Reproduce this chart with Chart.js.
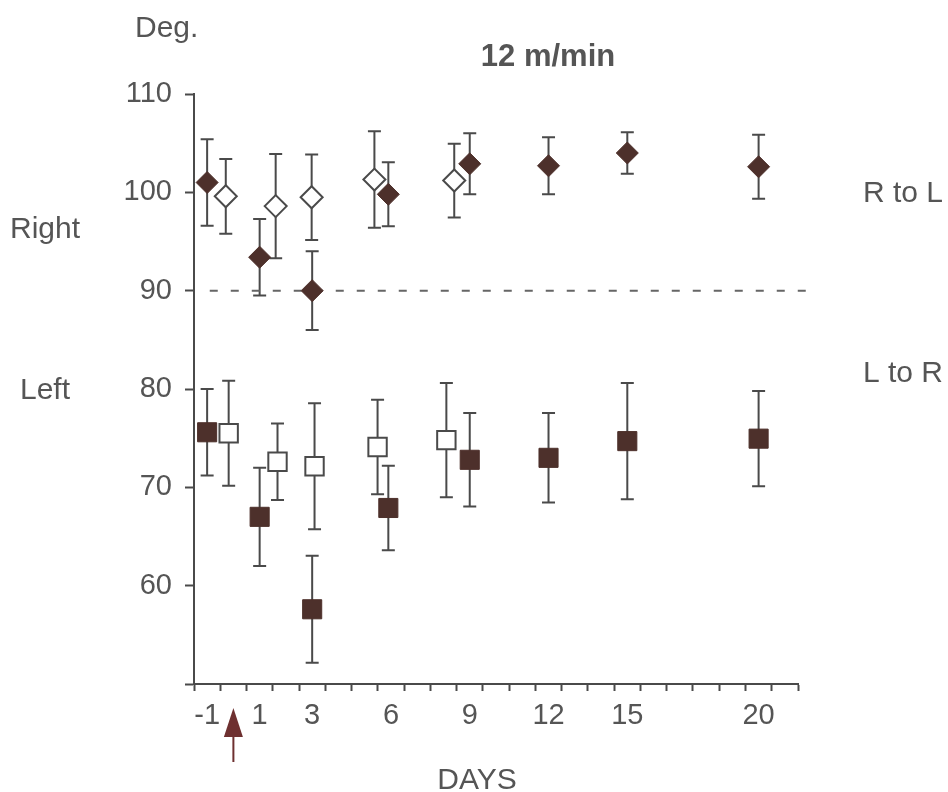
<!DOCTYPE html>
<html>
<head>
<meta charset="utf-8">
<script src="https://cdn.jsdelivr.net/npm/chart.js@4.4.1/dist/chart.umd.min.js"></script>
<style>
    html, body { margin: 0; padding: 0; background: #fff; }
</style>
</head>
<body>
<canvas id="chart" width="948" height="792"></canvas>
<script>
// x axis: labelled days, and the day the arrow points at
const dayLabels = [-1, 1, 3, 6, 9, 12, 15, 20];
const arrowDay = 0;
const yTicks = [50, 60, 70, 80, 90, 100, 110];
const refLine = 90;

// R to L (diamonds): filled and open groups, mean and SD
const rlFilledX = [-1, 1, 3, 5.9, 9, 12, 15, 20];
const rlFilled = [101.0, 93.4, 90.0, 99.8, 102.9, 102.7, 104.0, 102.6];
const rlFilledSd = [4.4, 3.9, 4.0, 3.25, 3.1, 2.9, 2.1, 3.25];
const rlOpenX = [-0.29, 1.61, 2.98, 5.37, 8.41];
const rlOpen = [99.6, 98.6, 99.5, 101.3, 101.2];
const rlOpenSd = [3.8, 5.3, 4.35, 4.9, 3.75];

// L to R (squares)
const lrFilledX = [-1, 1, 3, 5.9, 9, 12, 15, 20];
const lrFilled = [75.6, 67.0, 57.6, 67.9, 72.8, 73.0, 74.7, 74.95];
const lrFilledSd = [4.4, 5.0, 5.45, 4.3, 4.75, 4.55, 5.9, 4.85];
const lrOpenX = [-0.18, 1.68, 3.09, 5.49, 8.11];
const lrOpen = [75.5, 72.6, 72.15, 74.1, 74.8];
const lrOpenSd = [5.35, 3.9, 6.4, 4.8, 5.8];

const FONT = '"Liberation Sans", Arial, sans-serif';
const TEXT = '#555';
const AXIS = '#4a4a4a';
const DARK = '#4d302b';

// half-day positions carry the tick marks, whole days carry the labels
const xMin = Math.min(...dayLabels) - 0.5;
const xMax = 21.5;
const tickMarks = [];
for (let v = xMin; v <= xMax; v += 1) tickMarks.push(v);

const pts = (xs, ys) => xs.map((x, i) => ({ x: x, y: ys[i] }));

const errorBars = {
    id: 'errorBars',
    beforeDatasetsDraw(chart) {
        const { ctx, scales: { x, y } } = chart;
        ctx.save();
        ctx.strokeStyle = AXIS;
        ctx.lineWidth = 2;
        chart.data.datasets.forEach(ds => {
            if (!ds.sd) return;
            ds.data.forEach((p, i) => {
                const px = x.getPixelForValue(p.x);
                const top = y.getPixelForValue(p.y + ds.sd[i]);
                const bot = y.getPixelForValue(p.y - ds.sd[i]);
                ctx.beginPath();
                ctx.moveTo(px, top);
                ctx.lineTo(px, bot);
                ctx.moveTo(px - 6.5, top);
                ctx.lineTo(px + 6.5, top);
                ctx.moveTo(px - 6.5, bot);
                ctx.lineTo(px + 6.5, bot);
                ctx.stroke();
            });
        });
        ctx.restore();
    }
};

const labels = {
    id: 'labels',
    afterDraw(chart) {
        const { ctx, scales: { x } } = chart;
        ctx.save();
        ctx.fillStyle = TEXT;
        ctx.textBaseline = 'alphabetic';
        ctx.font = '30px ' + FONT;
        ctx.textAlign = 'left';
        ctx.fillText('Deg.', 135, 37);
        ctx.fillText('Right', 10, 238);
        ctx.fillText('Left', 20, 399);
        ctx.fillText('R to L', 863, 202);
        ctx.fillText('L to R', 863, 382);
        ctx.textAlign = 'center';
        ctx.fillText('DAYS', 477, 789);
        ctx.font = 'bold 31px ' + FONT;
        ctx.fillText('12 m/min', 548, 66);

        // arrow under the axis
        const ax = x.getPixelForValue(arrowDay);
        ctx.fillStyle = '#6e3030';
        ctx.strokeStyle = '#6e3030';
        ctx.beginPath();
        ctx.moveTo(ax, 708);
        ctx.lineTo(ax + 9.5, 737);
        ctx.lineTo(ax - 9.5, 737);
        ctx.closePath();
        ctx.fill();
        ctx.lineWidth = 2;
        ctx.beginPath();
        ctx.moveTo(ax, 737);
        ctx.lineTo(ax, 762);
        ctx.stroke();
        ctx.restore();
    }
};

new Chart(document.getElementById('chart'), {
    type: 'scatter',
    data: {
        datasets: [
            {
                data: pts(rlFilledX, rlFilled), sd: rlFilledSd,
                pointStyle: 'rectRot', pointRadius: 11,
                backgroundColor: DARK, borderColor: DARK, borderWidth: 1
            },
            {
                data: pts(rlOpenX, rlOpen), sd: rlOpenSd,
                pointStyle: 'rectRot', pointRadius: 11,
                backgroundColor: '#fff', borderColor: AXIS, borderWidth: 2
            },
            {
                data: pts(lrFilledX, lrFilled), sd: lrFilledSd,
                pointStyle: 'rect', pointRadius: 13.5,
                backgroundColor: DARK, borderColor: DARK, borderWidth: 1
            },
            {
                data: pts(lrOpenX, lrOpen), sd: lrOpenSd,
                pointStyle: 'rect', pointRadius: 13,
                backgroundColor: '#fff', borderColor: AXIS, borderWidth: 2
            },
            {
                type: 'line',
                data: [{ x: xMin + 0.6, y: refLine }, { x: xMax + 0.4, y: refLine }],
                borderColor: '#666', borderWidth: 2, borderDash: [8, 13],
                pointRadius: 0,
                clip: false
            }
        ]
    },
    options: {
        responsive: false,
        animation: false,
        devicePixelRatio: 1,
        layout: { padding: { left: 60, right: 150, top: 94, bottom: 40 } },
        plugins: { legend: { display: false }, tooltip: { enabled: false } },
        scales: {
            x: {
                type: 'linear',
                min: xMin,
                max: xMax,
                afterBuildTicks: scale => {
                    scale.ticks = [...tickMarks, ...dayLabels]
                        .sort((a, b) => a - b)
                        .map(v => ({ value: v }));
                },
                afterFit: scale => { scale.height = 68; },
                grid: {
                    drawOnChartArea: false,
                    tickLength: 7,
                    tickWidth: 2,
                    tickColor: c => (c.tick && dayLabels.includes(c.tick.value)) ? 'rgba(0,0,0,0)' : AXIS
                },
                border: { color: AXIS, width: 2 },
                ticks: {
                    autoSkip: false,
                    maxRotation: 0,
                    padding: 8,
                    color: TEXT,
                    font: { family: FONT, size: 29 },
                    callback: v => dayLabels.includes(v) ? String(v) : ''
                }
            },
            y: {
                min: yTicks[0],
                max: yTicks[yTicks.length - 1],
                afterBuildTicks: scale => {
                    scale.ticks = yTicks.map(v => ({ value: v }));
                },
                afterFit: scale => { scale.width = 134; },
                grid: { drawOnChartArea: false, tickLength: 9, tickWidth: 2, tickColor: AXIS },
                border: { color: AXIS, width: 2 },
                ticks: {
                    padding: 13,
                    color: TEXT,
                    font: { family: FONT, size: 29 },
                    callback: v => v === yTicks[0] ? '' : String(v)
                }
            }
        }
    },
    plugins: [errorBars, labels]
});
</script>
</body>
</html>
